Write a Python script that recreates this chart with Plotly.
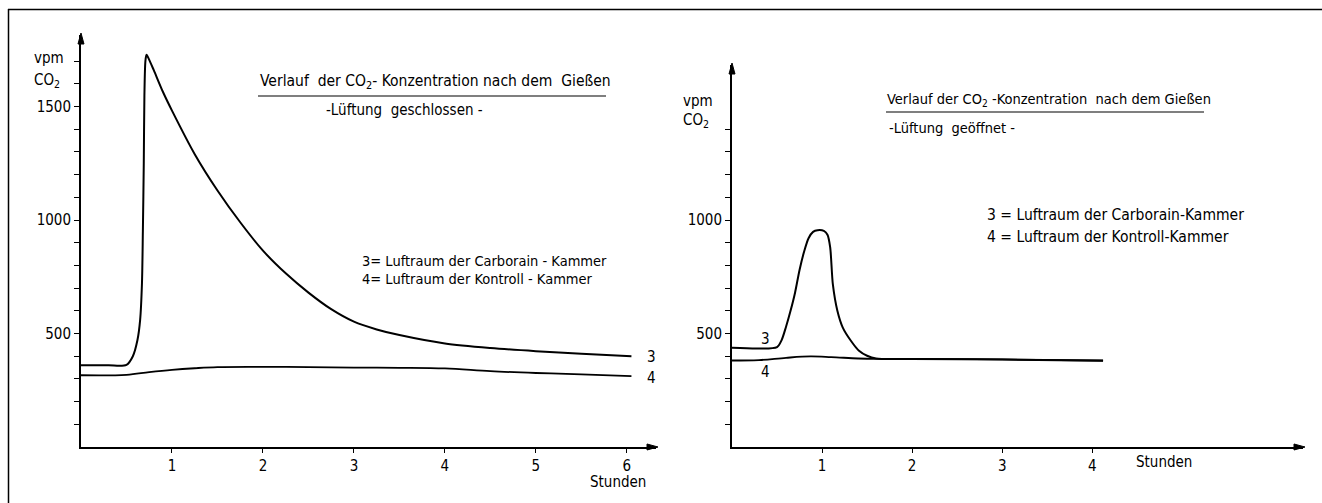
import plotly.graph_objects as go

# ---------------- data (hours, vpm CO2) ----------------
# Left panel: Lüftung geschlossen
left_c3_hours = [0, 0.3, 0.5, 0.57, 0.62, 0.65, 0.67, 0.68, 0.69, 0.697, 0.708, 0.72, 0.745, 0.80, 0.90, 1.0,
                 1.25, 1.5, 1.75, 2.0, 2.25, 2.5, 2.75, 3.0, 3.25, 3.5, 4.0, 4.5, 5.0, 5.5, 6.05]
left_c3_vpm = [360, 360, 362, 400, 470, 560, 720, 950, 1250, 1550, 1700, 1728, 1710, 1660, 1565, 1482,
               1290, 1130, 990, 865, 765, 680, 607, 552, 518, 493, 456, 436, 422, 411, 400]
left_c4_hours = [0, 0.5, 0.75, 1.0, 1.25, 1.5, 2.0, 2.5, 3.0, 3.5, 4.0, 4.5, 5.0, 5.5, 6.05]
left_c4_vpm = [316, 318, 330, 340, 347, 352, 353, 352, 350, 349, 346, 334, 326, 320, 312]

# Right panel: Lüftung geöffnet
right_c3_hours = [0, 0.3, 0.5, 0.55, 0.6, 0.65, 0.7, 0.75, 0.8, 0.85, 0.9, 0.95, 1.02, 1.06, 1.09,
                  1.12, 1.17, 1.23, 1.32, 1.41, 1.5, 1.6, 2.0, 3.0, 4.12]
right_c3_vpm = [437, 434, 440, 470, 530, 600, 680, 780, 860, 920, 948, 955, 952, 935, 880,
                716, 600, 526, 468, 424, 402, 390, 388, 385, 380]
right_c4_hours = [0, 0.3, 0.6, 0.87, 1.1, 1.4, 1.6, 2.0, 3.0, 4.12]
right_c4_vpm = [381, 383, 393, 399, 396, 390, 388, 388, 386, 381]

left_minor_y = [v for v in range(100, 1800, 100) if v not in (500, 1000, 1500)]
left_labels_y = [500, 1000, 1500]
right_minor_y = [v for v in range(100, 1500, 100) if v not in (500, 1000)]
right_labels_y = [500, 1000]
left_ticks_x = [1, 2, 3, 4, 5, 6]
right_ticks_x = [1, 2, 3, 4]

W, H = 1322, 503
FONT = "DejaVu Sans Condensed, Liberation Sans Narrow, Arial Narrow, sans-serif"
FS = 15


def px(x):
    return x / W


def py(y):
    return 1 - y / H


fig = go.Figure()
line_style = dict(color="black", width=2, shape="spline", smoothing=0.8)
thin_style = dict(color="black", width=1.8, shape="spline", smoothing=1.0)
fig.add_trace(go.Scatter(x=left_c3_hours, y=left_c3_vpm, mode="lines", line=line_style,
                         xaxis="x", yaxis="y", showlegend=False))
fig.add_trace(go.Scatter(x=left_c4_hours, y=left_c4_vpm, mode="lines", line=thin_style,
                         xaxis="x", yaxis="y", showlegend=False))
fig.add_trace(go.Scatter(x=right_c3_hours, y=right_c3_vpm, mode="lines", line=line_style,
                         xaxis="x2", yaxis="y2", showlegend=False))
fig.add_trace(go.Scatter(x=right_c4_hours, y=right_c4_vpm, mode="lines", line=thin_style,
                         xaxis="x2", yaxis="y2", showlegend=False))

L_YMAX, R_YMAX = 1815, 1683
L_XMAX, R_XMAX = 6.32, 6.34
LX0, LX1, RX0, RX1 = 81, 656, 732, 1303
Y0, LYT, RYT = 447, 35, 65

axis_common = dict(showline=True, linewidth=2, linecolor="black", showgrid=False, zeroline=False,
                   ticks="outside", tickcolor="black", tickwidth=1.3, mirror=False,
                   tickfont=dict(family=FONT, size=FS, color="black"), fixedrange=True)


def minor(vals):
    return dict(tickmode="array", tickvals=vals, ticks="outside", ticklen=5, tickwidth=1.3,
                tickcolor="black", showgrid=False)


fig.update_layout(
    width=W, height=H, margin=dict(l=0, r=0, t=0, b=0),
    paper_bgcolor="white", plot_bgcolor="rgba(0,0,0,0)",
    font=dict(family=FONT, size=FS, color="black"),
    xaxis=dict(domain=[px(LX0), px(LX1)], range=[0, L_XMAX], anchor="y", tickmode="array",
               tickvals=left_ticks_x, ticktext=[str(t) for t in left_ticks_x], ticklen=4, **axis_common),
    yaxis=dict(domain=[py(Y0), py(LYT)], range=[0, L_YMAX], anchor="x", tickmode="array",
               tickvals=left_labels_y, ticktext=[str(v) for v in left_labels_y], ticklen=5,
               minor=minor(left_minor_y), **axis_common),
    xaxis2=dict(domain=[px(RX0), px(RX1)], range=[0, R_XMAX], anchor="y2", tickmode="array",
                tickvals=right_ticks_x, ticktext=[str(t) for t in right_ticks_x], ticklen=4, **axis_common),
    yaxis2=dict(domain=[py(Y0), py(RYT)], range=[0, R_YMAX], anchor="x2", tickmode="array",
                tickvals=right_labels_y, ticktext=[str(v) for v in right_labels_y], ticklen=5,
                minor=minor(right_minor_y), **axis_common),
)

ann = []


def txt(x, y, s, xanchor="left", size=FS, xref="paper", yref="paper"):
    ann.append(dict(xref=xref, yref=yref, x=x, y=y, text=s, showarrow=False, xanchor=xanchor,
                    yanchor="middle", font=dict(family=FONT, size=size, color="black")))


# left panel texts
txt(px(32), py(58), "vpm")
txt(px(32), py(81), "CO<sub>2</sub>")
txt(px(258), py(82), "Verlauf  der CO<sub>2</sub>- Konzentration nach dem  Gießen", size=15.5)
txt(px(324), py(110), "-Lüftung  geschlossen -")
txt(px(360), py(261), "3= Luftraum der Carborain - Kammer", size=14.5)
txt(px(360), py(279), "4= Luftraum der Kontroll - Kammer", size=14.5)
txt(px(618), py(482), "Stunden", xanchor="center")
txt(6.2, 396, "3", xref="x", yref="y")
txt(6.2, 306, "4", xref="x", yref="y")

# right panel texts
txt(px(681), py(101), "vpm")
txt(px(681), py(121), "CO<sub>2</sub>")
txt(px(885), py(100), "Verlauf der CO<sub>2</sub> -Konzentration  nach dem Gießen", size=14.5)
txt(px(887), py(128), "-Lüftung  geöffnet -", size=14.5)
txt(px(985), py(215), "3 = Luftraum der Carborain-Kammer", size=15.5)
txt(px(985), py(237), "4 = Luftraum der Kontroll-Kammer", size=15.5)
txt(px(1164), py(462), "Stunden", xanchor="center")
txt(0.3, 478, "3", xref="x2", yref="y2")
txt(0.3, 330, "4", xref="x2", yref="y2")

fig.update_layout(annotations=ann)


def tri(pts):
    p = "M " + " L ".join(f"{px(a):.5f},{py(b):.5f}" for a, b in pts) + " Z"
    return dict(type="path", xref="paper", yref="paper", path=p, fillcolor="black",
                line=dict(color="black", width=1))


shapes = [
    # title underlines
    dict(type="line", xref="paper", yref="paper", x0=px(258), x1=px(606), y0=py(96), y1=py(96),
         line=dict(color="black", width=1.2)),
    dict(type="line", xref="paper", yref="paper", x0=px(886), x1=px(1204), y0=py(112), y1=py(112),
         line=dict(color="black", width=1.2)),
    # outer frame
    dict(type="line", xref="paper", yref="paper", x0=px(8), x1=px(1322), y0=py(9.5), y1=py(9.5),
         line=dict(color="black", width=1.5)),
    dict(type="line", xref="paper", yref="paper", x0=px(8.5), x1=px(8.5), y0=py(9), y1=py(503),
         line=dict(color="black", width=1.5)),
    # axis arrowheads
    tri([(LX0, LYT - 2), (LX0 - 3, LYT + 9), (LX0 + 3, LYT + 9)]),
    tri([(RX0, RYT - 2), (RX0 - 3, RYT + 9), (RX0 + 3, RYT + 9)]),
    tri([(LX1 + 2, Y0), (LX1 - 9, Y0 - 3), (LX1 - 9, Y0 + 3)]),
    tri([(RX1 + 2, Y0), (RX1 - 9, Y0 - 3), (RX1 - 9, Y0 + 3)]),
]
fig.update_layout(shapes=shapes)

fig.write_html("out.html")
